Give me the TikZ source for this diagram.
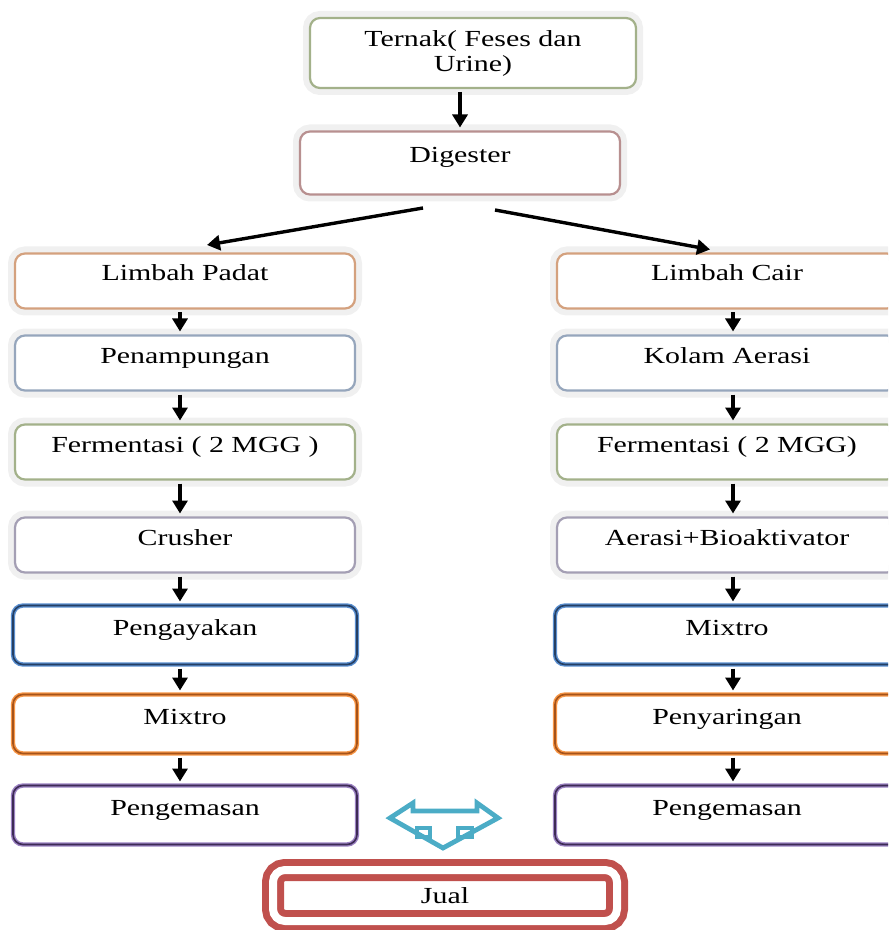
\documentclass[tikz,border=0pt]{standalone}
\usepackage{fontspec}
\setmainfont{Liberation Serif}[FakeStretch=1.3]
\usetikzlibrary{positioning,arrows.meta}

\definecolor{hijauabu}{HTML}{A3B18A}
\definecolor{merahabu}{HTML}{B89090}
\definecolor{coklatmuda}{HTML}{D4A17E}
\definecolor{biruabu}{HTML}{96A6BC}
\definecolor{unguabu}{HTML}{A49FB4}
\definecolor{biruterang}{HTML}{5A8FD0}
\definecolor{birugelap}{HTML}{253F63}
\definecolor{oranye}{HTML}{F79646}
\definecolor{oranyegelap}{HTML}{A5531A}
\definecolor{unguterang}{HTML}{9B82C2}
\definecolor{ungugelap}{HTML}{3D2B55}
\definecolor{merahjual}{HTML}{C0504D}
\definecolor{tosca}{HTML}{4BACC6}

\newcommand{\huruf}{\fontsize{11.5}{12.5}\selectfont}

\tikzset{
	dasar/.style={rectangle, rounded corners=5pt, fill=white, draw=#1,
		line width=1.1pt, minimum width=170pt, minimum height=27.5pt,
		inner sep=0pt, outer sep=2pt, font=\huruf,
		preaction={draw=black!6, line width=7pt}},
	kotak/.style={dasar=#1, text height=7pt, text depth=7pt},
	kotakganda/.style 2 args={rectangle, rounded corners=5pt, fill=white,
		draw=#1, double=#2, line width=0.7pt, double distance=0.8pt,
		minimum width=172pt, minimum height=29.5pt, inner sep=0pt,
		outer sep=2pt, font=\huruf, text height=7pt, text depth=7pt},
	jual/.style={rectangle, rounded corners=6pt, draw=merahjual,
		line width=3.5pt, double=white, double distance=4pt,
		minimum width=172pt, minimum height=25.5pt, inner sep=0pt, font=\huruf},
	panah/.style={-{Triangle[length=6.5pt,width=7.5pt]}, line width=1.7pt}
}

\begin{document}
\begin{tikzpicture}[x=0.5pt, y=-0.5pt]
	\clip (0,0) rectangle (888,930);
	
	\node[dasar=hijauabu, minimum width=163pt, minimum height=35pt, align=center] (tr) at (473,53) {Ternak( Feses dan\\Urine)};
	\node[kotak=merahabu, minimum width=160pt, minimum height=31.5pt] (dg) at (460,163) {Digester};
	
	% limbah padat
	\node[kotak=coklatmuda] (lp) at (185,281) {Limbah Padat};
	\node[kotak=biruabu, below=9.5pt of lp] (pn) {Penampungan};
	\node[kotak=hijauabu, below=13pt of pn] (fp) {Fermentasi ( 2 MGG )};
	\node[kotak=unguabu, below=15pt of fp] (cr) {Crusher};
	\node[kotakganda={biruterang}{birugelap}, below=12.5pt of cr] (py) {Pengayakan};
	\node[kotakganda={oranye}{oranyegelap}, below=11pt of py] (mp) {Mixtro};
	\node[kotakganda={unguterang}{ungugelap}, below=12pt of mp] (kp) {Pengemasan};
	
	% limbah cair
	\node[kotak=coklatmuda] (lc) at (727,281) {Limbah Cair};
	\node[kotak=biruabu, below=9.5pt of lc] (ka) {Kolam Aerasi};
	\node[kotak=hijauabu, below=13pt of ka] (fc) {Fermentasi ( 2 MGG)};
	\node[kotak=unguabu, below=15pt of fc] (ab) {Aerasi+Bioaktivator};
	\node[kotakganda={biruterang}{birugelap}, below=12.5pt of ab] (mc) {Mixtro};
	\node[kotakganda={oranye}{oranyegelap}, below=11pt of mc] (ps) {Penyaringan};
	\node[kotakganda={unguterang}{ungugelap}, below=12pt of ps] (kc) {Pengemasan};
	
	\node[jual] (jl) at (445,895.5) {Jual};
	
	\draw[panah] (tr.south -| dg.north) -- (dg.north);
	\draw[panah] ([xshift=-18.5pt,yshift=-4.75pt]dg.south) -- ([xshift=11pt,yshift=2.25pt]lp.north);
	\draw[panah] ([xshift=17.5pt,yshift=-5.75pt]dg.south) -- ([xshift=-8.5pt]lc.north);
	\foreach \a/\b in {lp/pn,pn/fp,fp/cr,cr/py,py/mp,mp/kp}
		\draw[panah] ([xshift=-2.5pt]\a.south) -- ([xshift=-2.5pt]\a.south |- \b.north);
	\foreach \a/\b in {lc/ka,ka/fc,fc/ab,ab/mc,mc/ps,ps/kc}
		\draw[panah] ([xshift=3pt]\a.south) -- ([xshift=3pt]\a.south |- \b.north);
	
	% panah kiri-kanan-bawah
	\draw[tosca, line width=2.4pt] (390,818) -- (413,803) -- (413,811) -- (477,811) -- (477,803) -- (498,818) -- (443,848) -- cycle;
	\draw[tosca, line width=2.4pt] (417,828) rectangle (430,837) (458,828) rectangle (472,837);
\end{tikzpicture}
\end{document}
